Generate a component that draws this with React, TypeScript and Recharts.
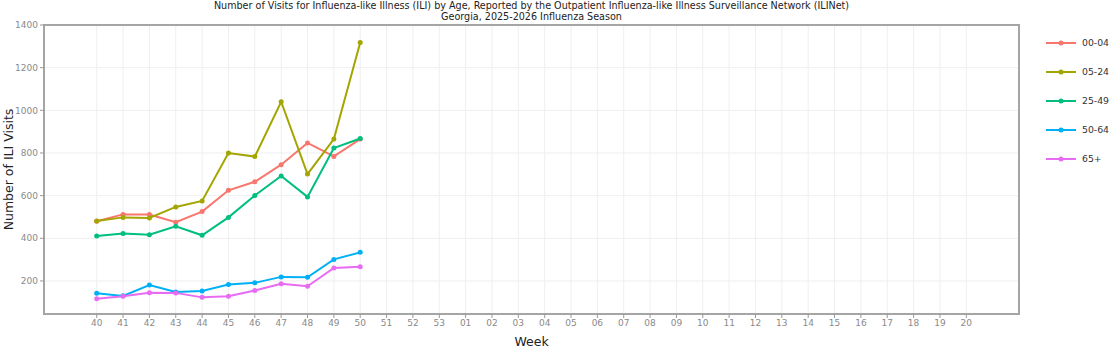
import { LineChart, Line, XAxis, YAxis, CartesianGrid, ReferenceArea } from "recharts"

const weeks = [
  "40", "41", "42", "43", "44", "45", "46", "47", "48", "49", "50", "51", "52", "53",
  "01", "02", "03", "04", "05", "06", "07", "08", "09", "10",
  "11", "12", "13", "14", "15", "16", "17", "18", "19", "20"
]

const ageGroups = ["00-04", "05-24", "25-49", "50-64", "65+"]
const colors = ["#F8766D", "#A3A500", "#00BF7D", "#00B0F6", "#E76BF3"]

// weeks 40-50
const age0004 = [480, 512, 511, 475, 525, 625, 665, 745, 847, 784, 865]
const age0524 = [481, 498, 495, 547, 575, 800, 783, 1040, 701, 865, 1318]
const age2549 = [411, 422, 417, 456, 414, 498, 601, 692, 594, 823, 868]
const age5064 = [142, 130, 181, 148, 153, 183, 191, 219, 217, 301, 334]
const age65 = [117, 128, 145, 144, 123, 128, 155, 187, 175, 261, 266]

const yTicks = [200, 400, 600, 800, 1000, 1200, 1400]

const seriesValues = [age0004, age0524, age2549, age5064, age65]

const data = weeks.map((week, i) => {
  const row: Record<string, number | string | null> = { idx: i, week }
  ageGroups.forEach((g, k) => {
    row[g] = seriesValues[k][i] ?? null
  })
  return row
})

const font = "'DejaVu Sans', sans-serif"

function LegendBox() {
  return (
    <div
      style={{
        position: "absolute",
        left: 1045,
        top: 28,
        width: 65,
        fontFamily: font,
        fontSize: 9.3,
        color: "#333",
        whiteSpace: "nowrap"
      }}
    >
      {ageGroups.map((g, k) => (
        <div key={g} style={{ display: "flex", alignItems: "center", height: 29 }}>
          <svg width={32} height={8} style={{ flexShrink: 0 }}>
            <line x1={1} y1={4} x2={31} y2={4} stroke={colors[k]} strokeWidth={2} />
            <circle cx={16} cy={4} r={2.5} fill={colors[k]} />
          </svg>
          <span style={{ marginLeft: 5 }}>{g}</span>
        </div>
      ))}
    </div>
  )
}

export default function App() {
  return (
    <div style={{ position: "absolute", left: 0, top: 0, width: 1110, height: 349, background: "#fff" }}>
      <div
        style={{
          position: "absolute",
          left: 44,
          width: 975,
          top: 0,
          textAlign: "center",
          fontFamily: font,
          fontSize: 9.6,
          lineHeight: "11px",
          color: "#222"
        }}
      >
        <div>Number of Visits for Influenza-like Illness (ILI) by Age, Reported by the Outpatient Influenza-like Illness Surveillance Network (ILINet)</div>
        <div>Georgia, 2025-2026 Influenza Season</div>
      </div>

      <LineChart
        width={1110}
        height={349}
        data={data}
        margin={{ top: 25, right: 91, bottom: 0, left: 0 }}
      >
        <CartesianGrid stroke="#EFEFEF" strokeWidth={1} />

        <XAxis
          dataKey="idx"
          type="number"
          domain={[-2, 35]}
          ticks={weeks.map((_, i) => i)}
          tickFormatter={(i) => weeks[i]}
          interval={0}
          height={35}
          axisLine={false}
          tickLine={{ stroke: "#999" }}
          tickSize={4}
          tick={{ fill: "#8a8a8a", fontSize: 9, fontFamily: font }}
          label={{ value: "Week", position: "insideBottom", offset: 3, fill: "#222", fontSize: 12.5, fontFamily: font }}
        />

        <YAxis
          type="number"
          domain={[45, 1400]}
          ticks={yTicks}
          allowDataOverflow
          width={44}
          axisLine={false}
          tickLine={{ stroke: "#999" }}
          tickSize={4}
          tick={{ fill: "#8a8a8a", fontSize: 9, fontFamily: font }}
          label={{
            value: "Number of ILI Visits",
            angle: -90,
            position: "insideLeft",
            offset: 9,
            style: { textAnchor: "middle" },
            fill: "#222",
            fontSize: 12.5,
            fontFamily: font
          }}
        />

        <ReferenceArea
          x1={-2}
          x2={35}
          y1={45}
          y2={1400}
          fill="none"
          fillOpacity={0}
          stroke="#A5A5A5"
          strokeWidth={2}
        />

        {ageGroups.map((g, k) => (
          <Line
            key={g}
            dataKey={g}
            type="linear"
            stroke={colors[k]}
            strokeWidth={2}
            dot={{ r: 2.5, fill: colors[k], stroke: colors[k], strokeWidth: 0 }}
            activeDot={false}
            isAnimationActive={false}
          />
        ))}
      </LineChart>

      <LegendBox />
    </div>
  )
}
